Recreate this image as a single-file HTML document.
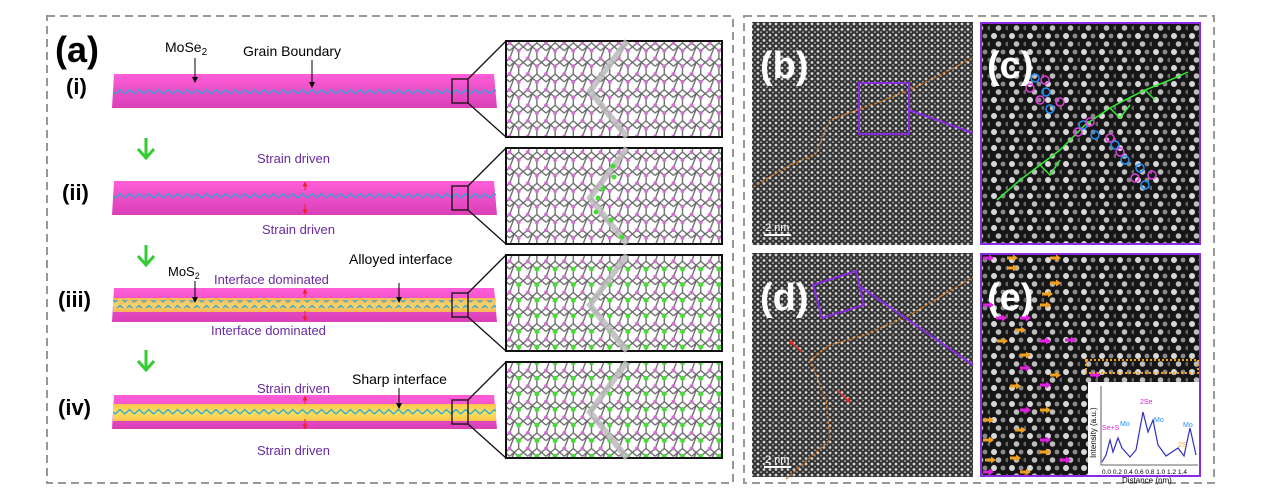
<!DOCTYPE html>
<html><head><meta charset="utf-8"><style>
html,body{margin:0;padding:0;background:#fff;width:1269px;height:494px;overflow:hidden}
svg text{font-family:"Liberation Sans",sans-serif}
</style></head><body>
<svg width="1269" height="494" viewBox="0 0 1269 494" xmlns="http://www.w3.org/2000/svg">
<defs>
<pattern id="stem" width="6" height="5.5" patternUnits="userSpaceOnUse">
<rect width="6" height="5.5" fill="#333"/>
<circle cx="2" cy="2" r="1.4" fill="#d4d4d4"/>
<circle cx="5" cy="4.7" r="1.1" fill="#999"/>
</pattern>
<pattern id="stem2" width="18" height="16" patternUnits="userSpaceOnUse">
<rect width="18" height="16" fill="#161616"/>
<circle cx="4" cy="4" r="3" fill="#d8d8d8"/>
<circle cx="13" cy="4" r="2.4" fill="#8a8a8a"/>
<circle cx="8.5" cy="12" r="2.8" fill="#bdbdbd"/>
<circle cx="17.5" cy="12" r="2.2" fill="#666"/>
</pattern>
<pattern id="lat" width="14" height="12" patternUnits="userSpaceOnUse" patternTransform="scale(1.3)">
<rect width="14" height="12" fill="#fff"/>
<path d="M0 3 L3.5 0 M3.5 0 L7 3 L7 9 L3.5 12 L0 9 Z M7 3 L10.5 0 L14 3 M7 9 L10.5 12 L14 9" stroke="#666" stroke-width="1" fill="none"/>
<circle cx="7" cy="3" r="1.5" fill="#d070d0"/><circle cx="0" cy="9" r="1.5" fill="#d070d0"/><circle cx="14" cy="9" r="1.5" fill="#d070d0"/>
</pattern>
<pattern id="latg" width="14" height="12" patternUnits="userSpaceOnUse" patternTransform="scale(1.3)">
<rect width="14" height="12" fill="#fff"/>
<path d="M0 3 L3.5 0 M3.5 0 L7 3 L7 9 L3.5 12 L0 9 Z M7 3 L10.5 0 L14 3 M7 9 L10.5 12 L14 9" stroke="#666" stroke-width="1" fill="none"/>
<circle cx="7" cy="3" r="1.9" fill="#44dd33"/><circle cx="0" cy="9" r="1.5" fill="#d070d0"/><circle cx="14" cy="9" r="1.5" fill="#d070d0"/>
</pattern>
<pattern id="zzp" width="9.6" height="8" patternUnits="userSpaceOnUse">
<path d="M0 6 L4.8 1.5 L9.6 6" fill="none" stroke="#2aa6d6" stroke-width="1.2"/>
</pattern>
<linearGradient id="pk" x1="0" y1="0" x2="0" y2="1"><stop offset="0" stop-color="#ff5ed8"/><stop offset="1" stop-color="#d93fb8"/></linearGradient>
<linearGradient id="yl" x1="0" y1="0" x2="0" y2="1"><stop offset="0" stop-color="#ffc34a"/><stop offset="0.5" stop-color="#f5e060"/><stop offset="1" stop-color="#ffc34a"/></linearGradient>
<marker id="ah" markerWidth="6" markerHeight="6" refX="3" refY="3" orient="auto" markerUnits="userSpaceOnUse"><path d="M0 0 L6 3 L0 6Z" fill="#000"/></marker>
<marker id="rh" markerWidth="5" markerHeight="5" refX="2.5" refY="2.5" orient="auto" markerUnits="userSpaceOnUse"><path d="M0 0 L5 2.5 L0 5Z" fill="#e22"/></marker>
<g id="ma"><path d="M0 0 H7" stroke="#e020e0" stroke-width="3"/><path d="M6 -3.5 L11 0 L6 3.5Z" fill="#e020e0"/></g>
<g id="oa"><path d="M0 0 H7" stroke="#f0a020" stroke-width="3"/><path d="M6 -3.5 L11 0 L6 3.5Z" fill="#f0a020"/></g>
</defs>

<rect x="47" y="16" width="686" height="467" fill="none" stroke="#999" stroke-width="2" stroke-dasharray="8 5"/>
<rect x="744" y="16" width="470" height="467" fill="none" stroke="#999" stroke-width="2" stroke-dasharray="8 5"/>

<text x="55" y="62" font-size="36" font-weight="bold">(a)</text>
<text x="66" y="94" font-size="22" font-weight="bold">(i)</text>
<text x="62" y="200" font-size="22" font-weight="bold">(ii)</text>
<text x="58" y="307" font-size="22" font-weight="bold">(iii)</text>
<text x="58" y="415" font-size="22" font-weight="bold">(iv)</text>

<polygon points="114,74 494,74 497,108 112,108" fill="url(#pk)"/>
<polygon points="114,181 494,181 497,215 112,215" fill="url(#pk)"/>
<polygon points="114,288 494,288 497,322 112,322" fill="url(#pk)"/>
<rect x="113" y="298" width="383" height="14" fill="url(#yl)" opacity="0.9"/>
<polygon points="114,395 494,395 497,429 112,429" fill="url(#pk)"/>
<rect x="113" y="404" width="383" height="17" fill="url(#yl)"/>
<rect x="113" y="86" width="383" height="8" fill="url(#zzp)"/>
<rect x="113" y="193" width="383" height="8" fill="url(#zzp)"/>
<rect x="113" y="300" width="383" height="8" fill="url(#zzp)"/>
<rect x="113" y="408" width="383" height="8" fill="url(#zzp)"/>

<g fill="none" stroke="#111" stroke-width="1.3">
<rect x="452" y="79" width="16" height="24"/><rect x="452" y="186" width="16" height="24"/>
<rect x="452" y="293" width="16" height="24"/><rect x="452" y="400" width="16" height="24"/>
<path d="M468 79 L506 41 M468 103 L506 137 M468 186 L506 148 M468 210 L506 244 M468 293 L506 255 M468 317 L506 351 M468 400 L506 362 M468 424 L506 458"/>
</g>
<rect x="506" y="41" width="216" height="96" fill="url(#lat)" stroke="#111" stroke-width="2"/>
<rect x="506" y="148" width="216" height="96" fill="url(#lat)" stroke="#111" stroke-width="2"/>
<rect x="506" y="255" width="216" height="96" fill="url(#latg)" stroke="#111" stroke-width="2"/>
<rect x="506" y="362" width="216" height="96" fill="url(#latg)" stroke="#111" stroke-width="2"/>
<g fill="none" stroke="#bbb" stroke-width="6" opacity="0.85">
<path d="M627 41 L590 91 L627 137"/><path d="M627 148 L590 198 L627 244"/>
<path d="M627 255 L590 305 L627 351"/><path d="M627 362 L590 412 L627 458"/>
</g>
<g fill="#44dd33"><circle cx="613" cy="166" r="2.5"/><circle cx="614" cy="177" r="2.5"/><circle cx="603" cy="189" r="2.5"/><circle cx="598" cy="198" r="2.5"/><circle cx="596" cy="212" r="2.5"/><circle cx="611" cy="220" r="2.5"/><circle cx="622" cy="237" r="2.5"/></g>

<text x="165" y="52" font-size="14">MoSe<tspan font-size="10" dy="3">2</tspan></text>
<text x="243" y="56" font-size="14">Grain Boundary</text>
<line x1="195" y1="58" x2="195" y2="80" stroke="#000" marker-end="url(#ah)"/>
<line x1="312" y1="60" x2="312" y2="85" stroke="#000" marker-end="url(#ah)"/>
<text x="257" y="163" font-size="13" fill="#6a2aa0">Strain driven</text>
<text x="262" y="234" font-size="13" fill="#6a2aa0">Strain driven</text>
<text x="168" y="276" font-size="13">MoS<tspan font-size="9" dy="3">2</tspan></text>
<text x="214" y="284" font-size="13" fill="#6a2aa0">Interface dominated</text>
<text x="349" y="264" font-size="14">Alloyed interface</text>
<text x="211" y="335" font-size="13" fill="#6a2aa0">Interface dominated</text>
<line x1="195" y1="281" x2="195" y2="300" stroke="#000" marker-end="url(#ah)"/>
<line x1="399" y1="283" x2="399" y2="300" stroke="#000" marker-end="url(#ah)"/>
<text x="257" y="393" font-size="13" fill="#6a2aa0">Strain driven</text>
<text x="352" y="384" font-size="14">Sharp interface</text>
<text x="257" y="455" font-size="13" fill="#6a2aa0">Strain driven</text>
<line x1="399" y1="388" x2="399" y2="406" stroke="#000" marker-end="url(#ah)"/>
<g stroke="#e22" stroke-width="1">
<line x1="305" y1="190" x2="305" y2="184" marker-end="url(#rh)"/><line x1="305" y1="204" x2="305" y2="212" marker-end="url(#rh)"/>
<line x1="305" y1="297" x2="305" y2="291" marker-end="url(#rh)"/><line x1="305" y1="311" x2="305" y2="319" marker-end="url(#rh)"/>
<line x1="305" y1="404" x2="305" y2="398" marker-end="url(#rh)"/><line x1="305" y1="419" x2="305" y2="427" marker-end="url(#rh)"/>
</g>
<g stroke="#3c3" stroke-width="3" fill="none"><path d="M146 138 V156 M138 149 L146 158 L154 149"/><path d="M146 245 V263 M138 256 L146 265 L154 256"/><path d="M146 350 V368 M138 361 L146 370 L154 361"/></g>

<rect x="752" y="22" width="221" height="223" fill="url(#stem)"/>
<rect x="752" y="253" width="221" height="224" fill="url(#stem)"/>
<rect x="981" y="23" width="219" height="221" fill="url(#stem2)" stroke="#8a2be2" stroke-width="2"/>
<rect x="981" y="254" width="219" height="222" fill="url(#stem2)" stroke="#8a2be2" stroke-width="2"/>
<text x="760" y="78" font-size="38" font-weight="bold" fill="#fff">(b)</text>
<text x="987" y="78" font-size="38" font-weight="bold" fill="#fff">(c)</text>
<text x="760" y="310" font-size="38" font-weight="bold" fill="#fff">(d)</text>
<text x="987" y="310" font-size="38" font-weight="bold" fill="#fff">(e)</text>
<path d="M753 187 L790 165 L815 155 L830 120 L885 100 L920 85 L973 58" fill="none" stroke="#e07a20" stroke-width="1.3" stroke-dasharray="3 2"/>
<path d="M786 479 L830 440 L826 400 L810 360 L830 345 L865 335 L910 315 L973 277" fill="none" stroke="#e07a20" stroke-width="1.3" stroke-dasharray="3 2"/>
<rect x="859" y="83" width="50" height="51" fill="none" stroke="#8a2be2" stroke-width="2"/>
<line x1="909" y1="110" x2="973" y2="133" stroke="#8a2be2" stroke-width="2"/>
<polygon points="813,285 856,271 864,305 822,318" fill="none" stroke="#8a2be2" stroke-width="2"/>
<line x1="858" y1="285" x2="973" y2="365" stroke="#8a2be2" stroke-width="2"/>
<g stroke="#e33" stroke-width="1.5"><line x1="802" y1="352" x2="791" y2="342" marker-end="url(#rh)"/><line x1="837" y1="390" x2="849" y2="401" marker-end="url(#rh)"/></g>
<line x1="764" y1="235" x2="791" y2="235" stroke="#fff" stroke-width="2"/>
<text x="765" y="231" font-size="11" fill="#fff">2 nm</text>
<line x1="764" y1="467" x2="791" y2="467" stroke="#fff" stroke-width="2"/>
<text x="765" y="463" font-size="11" fill="#fff">2 nm</text>

<path d="M997 200 L1020 180 L1040 165 L1060 150 L1075 135 L1085 125 L1110 108 L1125 100 L1145 90 L1170 80 L1188 72" fill="none" stroke="#3e3" stroke-width="1.5"/>
<path d="M1040 165 L1050 175 L1060 160 M1110 108 L1120 118 L1130 105 M1145 90 L1155 100" fill="none" stroke="#3e3" stroke-width="1.5"/>
<g fill="none" stroke-width="1.5">
<g stroke="#1e90ff"><circle cx="1035" cy="78" r="4"/><circle cx="1046" cy="92" r="4"/><circle cx="1050" cy="109" r="4"/><circle cx="1083" cy="125" r="4"/><circle cx="1095" cy="135" r="4"/><circle cx="1115" cy="145" r="4"/><circle cx="1125" cy="160" r="4"/><circle cx="1140" cy="168" r="4"/><circle cx="1145" cy="185" r="4"/></g>
<g stroke="#e040e0"><circle cx="1045" cy="80" r="4"/><circle cx="1030" cy="88" r="4"/><circle cx="1040" cy="100" r="4"/><circle cx="1060" cy="102" r="4"/><circle cx="1078" cy="132" r="4"/><circle cx="1090" cy="122" r="4"/><circle cx="1110" cy="138" r="4"/><circle cx="1120" cy="152" r="4"/><circle cx="1135" cy="178" r="4"/><circle cx="1152" cy="175" r="4"/></g>
</g>
<!-- (e) arrows -->
<use href="#ma" x="983" y="258"/><use href="#oa" x="1007" y="258"/><use href="#oa" x="1050" y="258"/>
<use href="#oa" x="1007" y="268"/><use href="#oa" x="1050" y="283"/>
<use href="#oa" x="1042" y="294"/><use href="#ma" x="983" y="305"/><use href="#oa" x="1040" y="305"/>
<use href="#ma" x="996" y="318"/><use href="#oa" x="1015" y="330"/><use href="#ma" x="1020" y="318"/>
<use href="#oa" x="997" y="341"/><use href="#ma" x="1040" y="341"/><use href="#oa" x="1020" y="355"/>
<use href="#ma" x="1020" y="368"/><use href="#oa" x="1050" y="375"/><use href="#ma" x="1090" y="375"/>
<use href="#ma" x="1065" y="340"/><use href="#oa" x="1010" y="386"/>
<use href="#ma" x="1040" y="385"/><use href="#ma" x="1020" y="410"/><use href="#oa" x="1040" y="410"/>
<use href="#oa" x="983" y="420"/><use href="#ma" x="1040" y="440"/><use href="#oa" x="1015" y="430"/>
<use href="#oa" x="983" y="440"/><use href="#oa" x="1040" y="452"/><use href="#oa" x="1010" y="458"/>
<use href="#oa" x="985" y="460"/><use href="#ma" x="1060" y="460"/><use href="#oa" x="1020" y="472"/>
<use href="#ma" x="983" y="472"/>
<rect x="1086" y="360" width="112" height="13" fill="none" stroke="#f0a020" stroke-width="2" stroke-dasharray="2 2"/>
<rect x="1088" y="382" width="111" height="93" fill="#fff"/>
<path d="M1102 462 L1106 455 L1110 440 L1113 452 L1118 438 L1122 448 L1130 457 L1136 450 L1143 412 L1148 432 L1153 420 L1158 445 L1166 456 L1172 452 L1178 448 L1184 456 L1190 428 L1196 455" fill="none" stroke="#3030c0" stroke-width="1.2"/>
<path d="M1101 386 V465 H1198" fill="none" stroke="#333" stroke-width="0.8"/>
<text x="1096" y="458" font-size="8" transform="rotate(-90 1096 458)">Intensity (a.u.)</text>
<text x="1102" y="474" font-size="6.5">0.0 0.2 0.4 0.6 0.8 1.0 1.2 1.4</text>
<text x="1122" y="483" font-size="8">Distance (nm)</text>
<text x="1140" y="404" font-size="7" fill="#e020e0">2Se</text>
<text x="1120" y="426" font-size="7" fill="#1e90ff">Mo</text>
<text x="1154" y="422" font-size="7" fill="#1e90ff">Mo</text>
<text x="1183" y="427" font-size="7" fill="#1e90ff">Mo</text>
<text x="1102" y="430" font-size="7" fill="#e020e0">Se+S</text>
<text x="1178" y="447" font-size="7" fill="#f0b020">2S</text>
</svg>
</body></html>
